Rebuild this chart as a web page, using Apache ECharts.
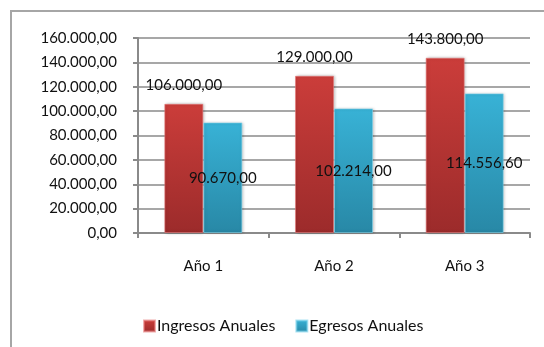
<!DOCTYPE html>
<html>
<head>
<meta charset="utf-8">
<script src="https://cdn.jsdelivr.net/npm/echarts@6/dist/echarts.min.js"></script>
<style>
  html, body { margin: 0; padding: 0; background: #fff; }
  #frame { position: absolute; left: 10px; top: 10px; width: 600px; height: 400px; border: 2px solid #a6a6a6; }
  #main { position: absolute; left: 0; top: 0; width: 544px; height: 347px; }
</style>
</head>
<body>
<div id="frame"></div>
<div id="main"></div>
<script>
// datos del gráfico
const categorias = ['Año 1', 'Año 2', 'Año 3'];
const ingresos = [106000, 129000, 143800];
const egresos = [90670, 102214, 114556.6];
const yMax = 160000;
const yStep = 20000;

// formato 1.234,56
const fmt = (v) => {
  const parts = Number(v).toFixed(2).split('.');
  return parts[0].replace(/\B(?=(\d{3})+(?!\d))/g, '.') + ',' + parts[1];
};

const font = 'Lato, "Open Sans", sans-serif';

const chart = echarts.init(document.getElementById('main'));
const option = {
  animation: false,
  textStyle: { fontFamily: font },
  grid: { left: 138, right: 14, top: 38, bottom: 114 },
  legend: {
    left: 138,
    top: 313,
    icon: 'rect',
    itemWidth: 11,
    itemHeight: 11,
    itemGap: 20,
    textStyle: { fontSize: 16, color: '#111', fontFamily: font, padding: [0, 0, 0, -3] },
    data: ['Ingresos Anuales', 'Egresos Anuales']
  },
  xAxis: {
    type: 'category',
    data: categorias,
    axisLine: { lineStyle: { color: '#8a8a8a', width: 2 } },
    axisTick: { show: true, length: 5, lineStyle: { color: '#8a8a8a', width: 2 } },
    axisLabel: { fontSize: 15, color: '#111', margin: 26 }
  },
  yAxis: {
    type: 'value',
    min: 0,
    max: yMax,
    interval: yStep,
    axisLine: { show: true, lineStyle: { color: '#8a8a8a', width: 2 } },
    axisTick: { show: true, length: 5, lineStyle: { color: '#8a8a8a', width: 2 } },
    axisLabel: { fontSize: 15, color: '#111', margin: 21, formatter: fmt },
    splitLine: { lineStyle: { color: '#8a8a8a', width: 1.5 } }
  },
  series: [
    {
      name: 'Ingresos Anuales',
      type: 'bar',
      data: ingresos,
      barWidth: 39,
      barGap: '0%',
      itemStyle: {
        color: new echarts.graphic.LinearGradient(0, 0, 0, 1, [
          { offset: 0, color: '#cb3d3a' },
          { offset: 1, color: '#9c2b2b' }
        ]),
        borderColor: 'rgba(230,120,120,0.6)',
        borderWidth: 1,
        shadowBlur: 3,
        shadowColor: 'rgba(0,0,0,0.25)',
        shadowOffsetX: 1
      },
      label: {
        show: true,
        position: 'top',
        distance: 11,
        fontSize: 15,
        color: '#111',
        formatter: (p) => fmt(p.value)
      }
    },
    {
      name: 'Egresos Anuales',
      type: 'bar',
      data: egresos,
      barWidth: 39,
      itemStyle: {
        color: new echarts.graphic.LinearGradient(0, 0, 0, 1, [
          { offset: 0, color: '#38b2d6' },
          { offset: 1, color: '#2888a6' }
        ]),
        borderColor: 'rgba(120,210,235,0.6)',
        borderWidth: 1,
        shadowBlur: 3,
        shadowColor: 'rgba(0,0,0,0.25)',
        shadowOffsetX: 1
      },
      label: {
        show: true,
        position: 'inside',
        fontSize: 15,
        color: '#111',
        formatter: (p) => fmt(p.value)
      }
    }
  ]
};
chart.setOption(option);
</script>
</body>
</html>
